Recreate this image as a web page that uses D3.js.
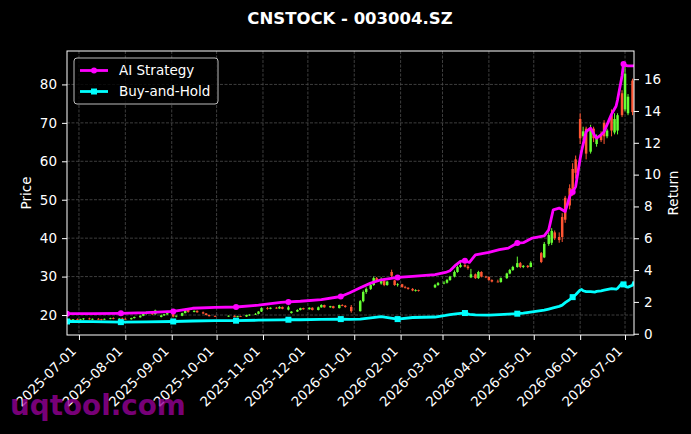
<!DOCTYPE html>
<html>
<head>
<meta charset="utf-8">
<script src="https://cdn.jsdelivr.net/npm/d3@7"></script>
<style>
  body { margin: 0; background: #000; }
  text { font-family: "DejaVu Sans", sans-serif; }
</style>
</head>
<body>
<svg id="chart" width="691" height="434"></svg>
<script>
// daily candles: date, open, high, low, close
const candles = [
  ["2025-06-23",18.6,18.9,18.4,18.8], ["2025-06-25",18.8,19.0,18.6,18.7], ["2025-06-27",18.7,18.9,18.5,18.9],
  ["2025-06-30",18.9,19.1,18.7,18.8], ["2025-07-02",18.8,19.0,18.6,18.9], ["2025-07-04",18.9,19.2,18.7,19.1],
  ["2025-07-08",19.1,19.3,18.8,18.9], ["2025-07-10",18.9,19.1,18.7,19.0], ["2025-07-14",19.0,19.2,18.8,18.9],
  ["2025-07-16",18.9,19.0,18.6,18.8], ["2025-07-18",18.8,19.1,18.7,19.0], ["2025-07-22",19.0,19.3,18.9,19.2],
  ["2025-07-24",19.2,19.4,18.9,19.0], ["2025-07-28",19.0,19.2,18.8,19.1], ["2025-07-30",19.1,19.3,18.9,19.0],
  ["2025-08-01",19.0,19.2,18.8,18.9], ["2025-08-05",18.9,19.3,18.8,19.2], ["2025-08-07",19.2,19.6,19.1,19.5],
  ["2025-08-11",19.4,19.9,19.3,19.8], ["2025-08-13",19.8,20.4,19.7,20.3], ["2025-08-15",20.3,20.9,20.1,20.6],
  ["2025-08-19",20.6,20.8,20.0,20.2], ["2025-08-21",20.2,21.4,20.1,21.2], ["2025-08-25",19.5,20.1,19.4,19.9],
  ["2025-08-27",19.9,20.3,19.8,20.2], ["2025-08-29",20.2,20.6,20.0,20.5], ["2025-09-02",20.4,20.5,19.4,19.6],
  ["2025-09-04",19.6,19.9,19.4,19.8], ["2025-09-08",19.8,20.6,19.7,20.5], ["2025-09-10",20.5,21.5,20.4,21.3],
  ["2025-09-12",21.3,21.4,20.6,20.8], ["2025-09-16",20.8,21.2,20.7,21.1], ["2025-09-18",21.1,21.2,20.6,20.7],
  ["2025-09-22",20.7,20.9,20.3,20.4], ["2025-09-24",20.4,20.5,19.9,20.0], ["2025-09-26",20.0,20.1,19.6,19.7],
  ["2025-09-30",19.7,19.9,19.5,19.6], ["2025-10-09",19.6,19.9,19.5,19.8], ["2025-10-13",19.8,19.9,19.4,19.5],
  ["2025-10-15",19.5,19.8,19.4,19.7], ["2025-10-17",19.7,19.8,19.5,19.6], ["2025-10-21",19.6,20.1,19.5,20.0],
  ["2025-10-23",20.0,20.2,19.8,20.1], ["2025-10-27",20.1,20.5,20.0,20.3], ["2025-10-29",20.3,21.0,20.2,20.9],
  ["2025-10-31",20.9,22.0,20.8,21.8], ["2025-11-04",21.8,22.1,21.4,21.6], ["2025-11-06",21.6,22.0,21.5,21.9],
  ["2025-11-10",21.9,22.1,21.6,21.7], ["2025-11-12",21.7,22.3,21.6,22.1], ["2025-11-14",22.1,22.2,21.5,21.6],
  ["2025-11-18",21.4,22.4,21.2,22.0], ["2025-11-20",20.5,21.0,20.4,20.9], ["2025-11-24",20.9,21.5,20.8,21.3],
  ["2025-11-26",21.3,21.9,21.2,21.8], ["2025-11-28",21.8,21.9,21.4,21.5], ["2025-12-02",21.5,22.0,21.4,21.9],
  ["2025-12-04",21.9,22.0,21.2,21.3], ["2025-12-08",21.3,22.2,21.2,22.0], ["2025-12-10",22.0,22.8,21.9,22.6],
  ["2025-12-12",22.6,22.7,21.9,22.0], ["2025-12-16",22.0,22.4,21.9,22.3], ["2025-12-18",22.3,22.4,21.7,21.8],
  ["2025-12-22",21.8,22.7,21.7,22.6], ["2025-12-24",22.6,22.8,22.3,22.4], ["2025-12-26",22.4,22.6,21.9,22.1],
  ["2025-12-30",22.1,22.6,20.6,21.0], ["2026-01-05",21.0,23.9,20.9,23.6], ["2026-01-07",23.6,26.4,23.3,26.0],
  ["2026-01-09",26.0,27.2,25.5,26.8], ["2026-01-12",26.8,28.2,26.5,27.8], ["2026-01-14",27.8,30.0,27.6,29.6],
  ["2026-01-16",29.6,29.9,28.8,29.1], ["2026-01-19",28.2,29.8,27.9,29.0], ["2026-01-21",29.0,29.2,27.5,27.8],
  ["2026-01-23",27.8,28.9,27.6,28.7], ["2026-01-26",31.2,31.8,29.8,30.2], ["2026-01-28",29.0,29.2,27.6,27.8],
  ["2026-01-30",27.8,28.3,27.4,28.0], ["2026-02-02",28.0,28.1,27.1,27.3], ["2026-02-04",27.3,27.6,26.9,27.1],
  ["2026-02-06",27.1,27.2,26.6,26.8], ["2026-02-09",26.8,27.0,26.2,26.4], ["2026-02-11",26.4,26.7,26.1,26.5],
  ["2026-02-13",26.5,26.6,26.1,26.3], ["2026-02-24",27.2,28.1,27.0,27.8], ["2026-02-26",27.8,28.6,27.6,28.3],
  ["2026-03-02",28.3,28.8,28.0,28.4], ["2026-03-04",28.4,29.4,28.2,29.1], ["2026-03-06",29.1,30.2,28.9,30.0],
  ["2026-03-09",30.0,31.6,29.8,31.2], ["2026-03-11",31.2,32.9,31.0,32.5], ["2026-03-13",32.5,33.6,32.3,33.0],
  ["2026-03-16",33.0,33.4,32.4,32.6], ["2026-03-18",32.6,33.0,31.8,32.2], ["2026-03-20",29.8,32.0,29.6,30.6],
  ["2026-03-23",30.6,30.8,29.4,29.6], ["2026-03-25",29.6,31.5,29.4,31.2], ["2026-03-27",31.2,31.4,29.8,30.0],
  ["2026-03-30",30.0,30.2,29.6,29.9], ["2026-04-01",29.9,30.0,28.9,29.1], ["2026-04-03",29.1,29.3,28.5,28.7],
  ["2026-04-07",28.7,29.2,28.5,28.6], ["2026-04-09",28.6,29.8,28.4,29.6], ["2026-04-13",29.6,31.0,29.4,30.8],
  ["2026-04-15",30.8,32.0,30.6,31.7], ["2026-04-17",31.7,32.8,31.5,32.5], ["2026-04-20",32.5,35.2,32.3,33.5],
  ["2026-04-22",33.5,33.8,32.2,32.5], ["2026-04-24",32.5,33.0,32.2,32.8], ["2026-04-27",32.8,33.0,32.2,32.5],
  ["2026-04-29",32.5,34.0,32.4,33.6], ["2026-05-06",36.1,36.4,33.5,33.8], ["2026-05-08",35.0,39.0,34.8,38.5],
  ["2026-05-11",38.5,41.5,38.0,40.8], ["2026-05-13",38.8,42.6,38.2,41.9], ["2026-05-15",41.5,42.0,39.5,40.0],
  ["2026-05-18",40.3,41.5,38.8,39.5], ["2026-05-20",45.5,46.5,39.0,40.3], ["2026-05-22",50.5,51.0,44.0,44.8],
  ["2026-05-25",53.0,54.0,47.5,48.5], ["2026-05-27",58.0,59.5,51.0,52.5], ["2026-05-29",60.5,61.5,55.5,57.0],
  ["2026-06-01",71.0,72.5,64.5,66.0], ["2026-06-03",66.5,69.0,65.5,67.8], ["2026-06-05",68.5,69.0,60.5,62.0],
  ["2026-06-08",62.5,69.5,62.0,68.5], ["2026-06-10",68.5,69.0,65.0,66.0], ["2026-06-12",64.5,67.0,63.8,66.5],
  ["2026-06-15",67.0,67.8,65.0,65.5], ["2026-06-17",70.0,70.7,64.5,66.5], ["2026-06-19",66.5,68.5,66.0,68.0],
  ["2026-06-22",72.0,73.5,66.5,68.0], ["2026-06-24",67.5,72.5,67.0,71.0], ["2026-06-26",68.0,72.5,67.0,72.0],
  ["2026-06-29",77.7,78.5,71.5,72.0], ["2026-07-01",73.5,85.0,73.0,82.8], ["2026-07-03",72.5,77.5,72.0,76.8],
  ["2026-07-06",81.0,81.5,72.0,72.8]
];

const lineDates = ["2025-06-23","2025-07-10","2025-07-29","2025-08-15","2025-09-02","2025-09-15","2025-09-30",
  "2025-10-14","2025-10-29","2025-11-13","2025-11-18","2025-11-26","2025-12-10","2025-12-23","2025-12-29",
  "2026-01-05","2026-01-12","2026-01-19","2026-01-30","2026-02-09","2026-02-24","2026-03-03","2026-03-06",
  "2026-03-10","2026-03-13","2026-03-16","2026-03-19","2026-03-23","2026-04-01","2026-04-08","2026-04-14",
  "2026-04-20","2026-04-24","2026-04-30","2026-05-08","2026-05-11","2026-05-14","2026-05-18","2026-05-20",
  "2026-05-22","2026-05-25","2026-05-27","2026-05-29","2026-06-01","2026-06-02","2026-06-03","2026-06-05",
  "2026-06-08","2026-06-11","2026-06-12","2026-06-15","2026-06-17","2026-06-22","2026-06-25","2026-06-26",
  "2026-06-29","2026-06-30","2026-07-02","2026-07-03","2026-07-06","2026-07-07"];
const aiStrategy = [1.26,1.26,1.28,1.32,1.40,1.60,1.65,1.68,1.80,1.97,2.00,2.04,2.14,2.34,2.58,
  2.89,3.18,3.39,3.54,3.60,3.71,3.85,3.96,4.33,4.54,4.59,4.48,4.96,5.11,5.28,5.38,
  5.70,5.72,6.01,6.15,6.53,7.79,7.90,7.79,7.68,8.62,8.90,9.25,11.0,11.5,11.9,12.7,
  12.92,12.4,12.29,12.5,12.7,13.8,14.3,14.7,16.2,16.96,16.85,16.83,16.83,16.83];
const buyHold = [0.77,0.76,0.73,0.75,0.77,0.80,0.82,0.82,0.85,0.87,0.88,0.88,0.90,0.92,0.90,
  0.92,1.00,1.08,0.92,1.02,1.05,1.15,1.20,1.25,1.28,1.30,1.22,1.19,1.17,1.20,1.23,
  1.26,1.30,1.38,1.48,1.55,1.62,1.72,1.80,1.95,2.15,2.30,2.45,2.75,2.78,2.70,2.65,
  2.64,2.62,2.66,2.70,2.74,2.83,2.80,2.85,3.18,3.10,2.95,2.93,3.05,3.28];
const markerDates = ["2025-06-23","2025-07-29","2025-09-02","2025-10-14","2025-11-18","2025-12-23",
  "2026-01-30","2026-03-16","2026-04-20","2026-05-27","2026-06-30"];

const priceTicks = [20, 30, 40, 50, 60, 70, 80];
const returnTicks = [0, 2, 4, 6, 8, 10, 12, 14, 16];

const parse = d3.timeParse("%Y-%m-%d");
const margin = { left: 67, right: 634, top: 51, bottom: 335 };
const svg = d3.select("#chart");
svg.append("rect").attr("width", 691).attr("height", 434).attr("fill", "#000");

const x = d3.scaleTime()
  .domain([parse("2025-06-23"), parse("2026-07-07")])
  .range([margin.left, margin.right]);
const yPrice = d3.scaleLinear().domain([14.8, 88.7]).range([margin.bottom, margin.top]);
const yRet = d3.scaleLinear().domain([-0.08, 17.77]).range([margin.bottom, margin.top]);
const monthTicks = x.ticks(d3.timeMonth.every(1));

svg.append("defs").append("clipPath").attr("id", "clip")
  .append("rect").attr("x", margin.left).attr("y", margin.top)
  .attr("width", margin.right - margin.left).attr("height", margin.bottom - margin.top);

// grid
const grid = svg.append("g").attr("stroke", "#4d4d4d").attr("stroke-width", 0.8).attr("stroke-dasharray", "3,1.5");
grid.selectAll(".gx").data(monthTicks).enter().append("line")
  .attr("x1", d => x(d)).attr("x2", d => x(d)).attr("y1", margin.top).attr("y2", margin.bottom);
grid.selectAll(".gy").data(priceTicks).enter().append("line")
  .attr("x1", margin.left).attr("x2", margin.right).attr("y1", d => yPrice(d)).attr("y2", d => yPrice(d));

// candles
const plot = svg.append("g").attr("clip-path", "url(#clip)");
const up = "#66ff33", down = "#ff5533";
const cg = plot.selectAll(".candle").data(candles).enter().append("g");
cg.append("line")
  .attr("x1", d => x(parse(d[0]))).attr("x2", d => x(parse(d[0])))
  .attr("y1", d => yPrice(d[2])).attr("y2", d => yPrice(d[3]))
  .attr("stroke", d => d[4] >= d[1] ? up : down).attr("stroke-width", 1);
cg.append("rect")
  .attr("x", d => x(parse(d[0])) - 1.25).attr("width", 2.5)
  .attr("y", d => yPrice(Math.max(d[1], d[4])))
  .attr("height", d => Math.max(0.8, Math.abs(yPrice(d[1]) - yPrice(d[4]))))
  .attr("fill", d => d[4] >= d[1] ? up : down);

// strategy lines
const pts = lineDates.map((d, i) => ({ date: parse(d), ai: aiStrategy[i], bh: buyHold[i], key: d }));
const marks = pts.filter(p => markerDates.includes(p.key));
const lineAi = d3.line().x(d => x(d.date)).y(d => yRet(d.ai));
const lineBh = d3.line().x(d => x(d.date)).y(d => yRet(d.bh));

plot.append("path").datum(pts).attr("d", lineBh)
  .attr("fill", "none").attr("stroke", "#00ffff").attr("stroke-width", 2.8).attr("stroke-linejoin", "round");
plot.selectAll(".mbh").data(marks).enter().append("rect")
  .attr("x", d => x(d.date) - 3).attr("y", d => yRet(d.bh) - 3)
  .attr("width", 6).attr("height", 6).attr("fill", "#00ffff");
plot.append("path").datum(pts).attr("d", lineAi)
  .attr("fill", "none").attr("stroke", "#ff00ff").attr("stroke-width", 2.8).attr("stroke-linejoin", "round");
plot.selectAll(".mai").data(marks).enter().append("circle")
  .attr("cx", d => x(d.date)).attr("cy", d => yRet(d.ai)).attr("r", 3).attr("fill", "#ff00ff");

// frame
svg.append("rect").attr("x", margin.left).attr("y", margin.top)
  .attr("width", margin.right - margin.left).attr("height", margin.bottom - margin.top)
  .attr("fill", "none").attr("stroke", "#fff").attr("stroke-width", 1);

// axes
function styleAxis(g) {
  g.select(".domain").remove();
  g.selectAll(".tick line").attr("stroke", "#fff");
  g.selectAll(".tick text").attr("fill", "#fff").style("font-size", "13.5px")
    .style("font-family", "DejaVu Sans, sans-serif");
}
svg.append("g").attr("transform", `translate(${margin.left},0)`)
  .call(d3.axisLeft(yPrice).tickValues(priceTicks).tickSize(5).tickPadding(5)).call(styleAxis);
svg.append("g").attr("transform", `translate(${margin.right},0)`)
  .call(d3.axisRight(yRet).tickValues(returnTicks).tickSize(5).tickPadding(5)).call(styleAxis);

const xAxis = svg.append("g").attr("transform", `translate(0,${margin.bottom})`)
  .call(d3.axisBottom(x).tickValues(monthTicks).tickSize(5).tickFormat(d3.timeFormat("%Y-%m-%d")))
  .call(styleAxis);
xAxis.selectAll(".tick text")
  .attr("y", 0).attr("dy", 0)
  .attr("transform", "translate(-2.3,17) rotate(-45)")
  .style("text-anchor", "end");

// labels
svg.append("text").attr("x", 350).attr("y", 24).attr("text-anchor", "middle")
  .attr("fill", "#fff").style("font-size", "16.5px").style("font-weight", "bold")
  .text("CNSTOCK - 003004.SZ");
svg.append("text").attr("transform", "translate(31,193) rotate(-90)").attr("text-anchor", "middle")
  .attr("fill", "#fff").style("font-size", "13.5px").text("Price");
svg.append("text").attr("transform", "translate(678,193) rotate(-90)").attr("text-anchor", "middle")
  .attr("fill", "#fff").style("font-size", "13.5px").text("Return");

// legend
const legendItems = [
  { name: "AI Strategy", color: "#ff00ff", shape: "circle" },
  { name: "Buy-and-Hold", color: "#00ffff", shape: "square" }
];
const lg = svg.append("g");
lg.append("rect").attr("x", 74).attr("y", 58).attr("width", 144).attr("height", 46).attr("rx", 3)
  .attr("fill", "#000").attr("fill-opacity", 0.8).attr("stroke", "#bbbbbb").attr("stroke-width", 1);
const li = lg.selectAll(".li").data(legendItems).enter().append("g")
  .attr("transform", (d, i) => `translate(0,${70.5 + i * 21})`);
li.append("line").attr("x1", 80).attr("x2", 108).attr("stroke", d => d.color).attr("stroke-width", 2.8);
li.filter(d => d.shape === "circle").append("circle").attr("cx", 94).attr("r", 3).attr("fill", d => d.color);
li.filter(d => d.shape === "square").append("rect").attr("x", 91).attr("y", -3).attr("width", 6).attr("height", 6)
  .attr("fill", d => d.color);
li.append("text").attr("x", 119).attr("dy", "0.35em").attr("fill", "#fff").style("font-size", "13.5px")
  .text(d => d.name);

// watermark
svg.append("text").attr("x", 10).attr("y", 415).attr("fill", "#990099").attr("fill-opacity", 0.8)
  .style("font-size", "27.8px").style("font-weight", "bold").text("uqtool.com");
</script>
</body>
</html>
